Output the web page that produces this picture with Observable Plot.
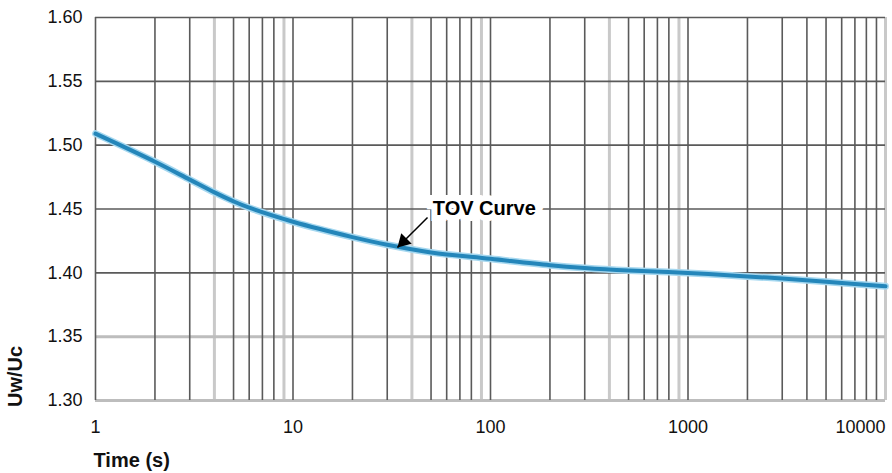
<!DOCTYPE html>
<html>
<head>
<meta charset="utf-8">
<script src="https://cdn.jsdelivr.net/npm/d3@7"></script>
<script src="https://cdn.jsdelivr.net/npm/@observablehq/plot@0.6"></script>
<style>
  html, body { margin: 0; padding: 0; background: #fff; }
  #chart svg { display: block; }
</style>
</head>
<body>
<div id="chart"></div>
<script>
// ---- data ----
const times = [1, 2, 3, 4, 5, 6, 10, 20, 30, 50, 100, 200, 300, 500, 1000, 2000, 3000, 5000, 10000];
const ratio = [1.509, 1.487, 1.473, 1.463, 1.456, 1.451, 1.440, 1.428, 1.422, 1.416, 1.411, 1.406, 1.4038, 1.4018, 1.3999, 1.3972, 1.3955, 1.393, 1.3895];

const xTickLabels = [1, 10, 100, 1000];
const xLastTick = [10000];
const yTicks = [1.30, 1.35, 1.40, 1.45, 1.50, 1.55, 1.60];

const gridDarkX = [1, 2, 3, 5, 6, 7, 8, 10, 20, 30, 50, 60, 70, 80, 100, 200, 300, 500, 600, 700, 800, 1000, 2000, 3000, 4000, 5000, 6000, 7000, 8000, 9000];
const gridLightX = [4, 9, 40, 90, 400, 900, 10000];
const gridDarkY = [1.40, 1.45, 1.50, 1.55, 1.60];
const gridLightY = [1.30, 1.35];

const annotationLabel = [{t: 93, v: 1.45, text: "TOV Curve"}];
const annotationArrow = [{t1: 48, v1: 1.4433, t2: 33.8, v2: 1.4198}];

const xTitle = "Time (s)";
const yTitle = "Uw/Uc";

const series = times.map((t, i) => ({t, v: ratio[i]}));

const font = "'Liberation Sans', Arial, Helvetica, sans-serif";

const chart = Plot.plot({
  width: 892,
  height: 473,
  marginTop: 17,
  marginBottom: 73,
  marginLeft: 95,
  marginRight: 7,
  style: {fontFamily: font, background: "#fff", color: "#111"},
  x: {type: "log", domain: [1, 10000], axis: null},
  y: {domain: [1.30, 1.60]},
  marks: [
    Plot.ruleX(gridLightX, {x: d => d, stroke: "#c9c9c9", strokeWidth: 3}),
    Plot.ruleY(gridLightY, {y: d => d, stroke: "#bdbdbd", strokeWidth: 3}),
    Plot.ruleX(gridDarkX, {x: d => d, stroke: "#5a5a5a", strokeWidth: 1.6}),
    Plot.ruleY(gridDarkY, {y: d => d, stroke: "#5a5a5a", strokeWidth: 1.6}),
    Plot.line(series, {x: "t", y: "v", stroke: "#a6d8f0", strokeWidth: 7, curve: "catmull-rom"}),
    Plot.line(series, {x: "t", y: "v", stroke: "#2486ba", strokeWidth: 4, curve: "catmull-rom"}),
    Plot.text(annotationLabel, {x: "t", y: "v", text: "text", fontSize: 20, fontWeight: "bold", fill: "#000",
      stroke: "#fff", strokeWidth: 12, strokeLinejoin: "miter", textAnchor: "middle", lineAnchor: "middle"}),
    Plot.link(annotationArrow, {x1: "t1", y1: "v1", x2: "t2", y2: "v2", stroke: "#000", strokeWidth: 1.5}),
    Plot.dot(annotationArrow, {x: "t2", y: "v2", symbol: "triangle", r: 5.5, rotate: 225, fill: "#000", dx: 6, dy: -6}),
    Plot.axisY({ticks: yTicks, tickFormat: d3.format(".2f"), tickSize: 0, tickPadding: 13, fontSize: 18, label: null}),
    Plot.text(xTickLabels, {x: d => d, text: d => String(d), frameAnchor: "bottom", dy: 27, fontSize: 18, textAnchor: "middle", lineAnchor: "middle"}),
    Plot.text(xLastTick, {x: d => d, text: d => String(d), frameAnchor: "bottom", dy: 27, fontSize: 18, textAnchor: "end", lineAnchor: "middle"}),
    Plot.text([xTitle], {text: d => d, frameAnchor: "bottom-left", dx: -2, dy: 60, fontSize: 20, fontWeight: "bold", textAnchor: "start", lineAnchor: "middle"}),
    Plot.text([yTitle], {text: d => d, frameAnchor: "bottom-left", dx: -80, dy: -24, rotate: -90, fontSize: 20, fontWeight: "bold", textAnchor: "middle", lineAnchor: "middle"})
  ]
});
document.getElementById("chart").appendChild(chart);
</script>
</body>
</html>
